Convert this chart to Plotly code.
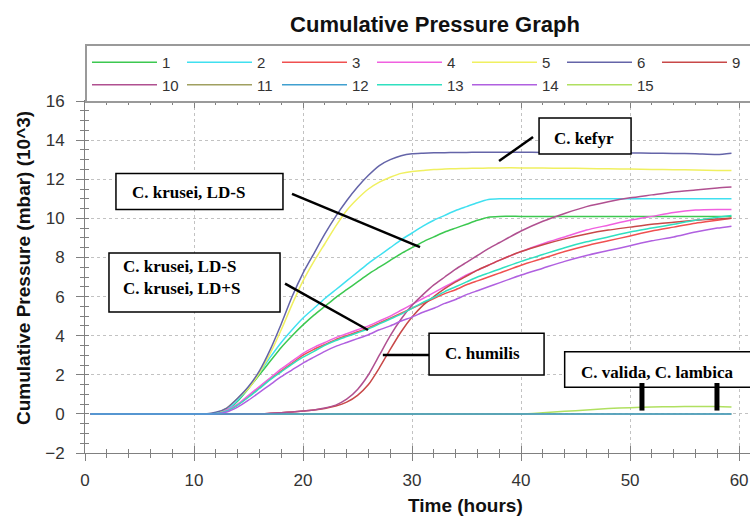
import plotly.graph_objects as go

# ---------------- data ----------------
hours = [0.5, 4, 8, 10, 11, 12, 13, 14, 15, 16, 17, 18, 19, 20, 21, 22, 23, 24, 25, 26,
         27, 28, 29, 30, 31, 32, 33, 34, 35, 36, 37, 38, 40, 42, 44, 46, 48, 50, 52, 54,
         56, 58, 59.3]

s1 = [0, 0, 0, 0, 0,
      0.02, 0.2, 0.65, 1.3, 2.0, 2.7, 3.4, 4.0, 4.55, 5.05, 5.5, 5.95, 6.35, 6.75, 7.15,
      7.5, 7.85, 8.2, 8.5, 8.8, 9.05, 9.3, 9.5, 9.7, 9.9, 10.06, 10.1,
      10.1, 10.1, 10.1, 10.1, 10.1, 10.1, 10.1, 10.1, 10.1, 10.1, 10.1]
s2 = [0, 0, 0, 0, 0,
      0.02, 0.2, 0.7, 1.35, 2.1, 2.9, 3.65, 4.3, 4.9, 5.4, 5.9, 6.35, 6.8, 7.25, 7.7,
      8.1, 8.5, 8.9, 9.25, 9.6, 9.9, 10.15, 10.4, 10.6, 10.8, 10.96, 11.0,
      11.0, 11.0, 11.0, 11.0, 11.0, 11.0, 11.0, 11.0, 11.0, 11.0, 11.0]
s3 = [0, 0, 0, 0, 0,
      0.02, 0.15, 0.45, 0.9, 1.35, 1.8, 2.2, 2.6, 3.0, 3.3, 3.55, 3.8, 4.0, 4.2, 4.4,
      4.65, 4.9, 5.15, 5.4, 5.65, 5.9, 6.15, 6.35, 6.6, 6.8, 7.0, 7.2,
      7.6, 7.95, 8.3, 8.6, 8.85, 9.1, 9.35, 9.55, 9.75, 9.9, 10.0]
s4 = [0, 0, 0, 0, 0,
      0.02, 0.2, 0.5, 0.95, 1.4, 1.85, 2.3, 2.7, 3.1, 3.4, 3.65, 3.9, 4.1, 4.3, 4.5,
      4.75, 5.0, 5.3, 5.6, 5.9, 6.2, 6.5, 6.8, 7.1, 7.35, 7.6, 7.85,
      8.3, 8.7, 9.05, 9.4, 9.65, 9.9, 10.1, 10.3, 10.42, 10.45, 10.45]
s5 = [0, 0, 0, 0, 0,
      0.05, 0.3, 0.8, 1.3, 2.1, 3.1, 4.3, 5.6, 6.8, 7.8, 8.7, 9.6, 10.4, 11.0, 11.5,
      11.85, 12.1, 12.3, 12.4, 12.45, 12.5, 12.52, 12.54, 12.55, 12.56, 12.57, 12.58,
      12.58, 12.57, 12.56, 12.55, 12.53, 12.52, 12.5, 12.49, 12.47, 12.45, 12.44]
s6 = [0, 0, 0, 0, 0,
      0.08, 0.3, 0.8, 1.4, 2.2, 3.3, 4.6, 6.0, 7.2, 8.2, 9.2, 10.1, 10.9, 11.6, 12.2,
      12.7, 13.0, 13.2, 13.3, 13.33, 13.35, 13.36, 13.37, 13.37, 13.38, 13.38, 13.38,
      13.38, 13.37, 13.37, 13.36, 13.35, 13.34, 13.33, 13.32, 13.3, 13.26, 13.33]
s9 = [0, 0, 0, 0, 0, 0, 0, 0, 0, 0,
      0.03, 0.06, 0.1, 0.15, 0.2, 0.28, 0.4, 0.6, 0.95, 1.5, 2.35, 3.3, 4.2, 4.95,
      5.55, 6.0, 6.4, 6.75, 7.05, 7.35, 7.6, 7.85,
      8.3, 8.65, 8.95, 9.2, 9.4, 9.55, 9.7, 9.8, 9.9, 9.97, 10.0]
s10 = [0, 0, 0, 0, 0, 0, 0, 0, 0, 0,
       0.03, 0.06, 0.1, 0.15, 0.2, 0.3, 0.45, 0.75, 1.25, 2.0, 3.0, 4.0, 4.85, 5.55,
       6.1, 6.6, 7.0, 7.4, 7.75, 8.1, 8.45, 8.75,
       9.35, 9.85, 10.25, 10.6, 10.85, 11.05, 11.2, 11.35, 11.45, 11.55, 11.6]
s11 = [0] * 43
s12 = [0] * 43
s13 = [0, 0, 0, 0, 0,
       0.02, 0.15, 0.45, 0.85, 1.3, 1.75, 2.15, 2.55, 2.9, 3.2, 3.5, 3.75, 3.95, 4.15, 4.35,
       4.6, 4.85, 5.1, 5.4, 5.7, 5.95, 6.25, 6.5, 6.75, 7.0, 7.2, 7.4,
       7.8, 8.15, 8.5, 8.8, 9.05, 9.3, 9.5, 9.7, 9.9, 10.05, 10.15]
s14 = [0, 0, 0, 0, 0,
       0.01, 0.1, 0.35, 0.7, 1.1, 1.5, 1.9, 2.25, 2.6, 2.9, 3.2, 3.45, 3.65, 3.85, 4.05,
       4.3, 4.5, 4.75, 4.95, 5.2, 5.4, 5.65, 5.85, 6.1, 6.3, 6.5, 6.7,
       7.1, 7.45, 7.8, 8.1, 8.35, 8.6, 8.85, 9.05, 9.3, 9.5, 9.6]
s15 = [0] * 33 + [0.06, 0.13, 0.2, 0.27, 0.32, 0.35, 0.37, 0.38, 0.38, 0.35]

series_names = ["1", "2", "3", "4", "5", "6", "9", "10", "11", "12", "13", "14", "15"]
series_values = [s1, s2, s3, s4, s5, s6, s9, s10, s11, s12, s13, s14, s15]
series_colors = ["#3cc850", "#40e0f0", "#f05050", "#f060e0", "#f0f060", "#6464a8",
                 "#c84848", "#b05090", "#a0a060", "#40a0d0", "#30e0c0", "#b060e0", "#b0e060"]
draw_order = ["15", "11", "1", "2", "3", "4", "5", "6", "9", "10", "13", "14", "12"]

x_ticks = [0, 10, 20, 30, 40, 50, 60]
y_ticks = [-2, 0, 2, 4, 6, 8, 10, 12, 14, 16]

for v in series_values:
    assert len(v) == len(hours)

# ---------------- figure ----------------
fig = go.Figure()
for name in draw_order:
    i = series_names.index(name)
    fig.add_trace(go.Scatter(
        x=hours, y=series_values[i], name=name, mode="lines",
        line=dict(color=series_colors[i], width=1.5, shape="spline", smoothing=0.6),
        legendrank=100 + i,
    ))
# empty trace so that the overlay axes (inner half of the crossing ticks) are drawn
fig.add_trace(go.Scatter(x=[], y=[], xaxis="x2", yaxis="y2", showlegend=False, hoverinfo="skip"))

tick_font = dict(family="Liberation Sans", size=17, color="#333333")
axis_col = "#808080"
PLOT_TOP, PLOT_BOTTOM = 101, 453
PLOT_H = PLOT_BOTTOM - PLOT_TOP

fig.update_layout(
    width=750, height=520,
    margin=dict(l=85, r=0, t=PLOT_TOP, b=520 - PLOT_BOTTOM, autoexpand=False),
    paper_bgcolor="white", plot_bgcolor="white",
    title=dict(text="Cumulative Pressure Graph", x=435 / 750, xanchor="center",
               y=1 - 24 / 520, yanchor="middle",
               font=dict(family="Liberation Sans", size=22, color="#111111", weight="bold")),
    xaxis=dict(range=[0, 61], tickvals=x_ticks, ticks="outside", ticklen=7, tickcolor=axis_col,
               showline=True, linecolor=axis_col, linewidth=1, mirror=True,
               showgrid=True, gridcolor="#c2c2c2", griddash="dot", gridwidth=1,
               zeroline=False, tickfont=tick_font, ticklabelstandoff=5,
               minor=dict(dtick=2, ticks="outside", ticklen=4, tickcolor=axis_col, showgrid=False)),
    xaxis2=dict(range=[0, 61], overlaying="x", anchor="y", side="bottom",
                tickvals=x_ticks, ticks="inside", ticklen=7, tickcolor=axis_col, mirror="allticks",
                showline=False, showticklabels=False, showgrid=False, zeroline=False,
                minor=dict(dtick=2, ticks="inside", ticklen=4, tickcolor=axis_col, showgrid=False)),
    yaxis=dict(range=[-2, 16], tickvals=y_ticks, ticks="outside", ticklen=8, tickcolor=axis_col,
               showline=True, linecolor=axis_col, linewidth=1, mirror=True,
               showgrid=True, gridcolor="#c2c2c2", griddash="dot", gridwidth=1,
               zeroline=False, tickfont=tick_font, ticklabelstandoff=8,
               minor=dict(dtick=0.5, ticks="outside", ticklen=4, tickcolor=axis_col, showgrid=False)),
    yaxis2=dict(range=[-2, 16], overlaying="y", anchor="x", side="left",
                tickvals=y_ticks, ticks="inside", ticklen=3, tickcolor=axis_col,
                showline=False, showticklabels=False, showgrid=False, zeroline=False,
                minor=dict(dtick=0.5, ticks="inside", ticklen=4, tickcolor=axis_col, showgrid=False)),
    legend=dict(orientation="h", xref="paper", x=0, xanchor="left",
                yref="paper", y=(PLOT_BOTTOM - 44) / PLOT_H, yanchor="top",
                bordercolor="#9a9a9a", borderwidth=2, bgcolor="white",
                font=dict(family="Liberation Sans", size=15, color="#333333"),
                itemwidth=65, entrywidth=15, entrywidthmode="pixels", traceorder="normal"),
    showlegend=True,
)

# axis titles (placed as in the reference)
fig.add_annotation(text="Time (hours)", xref="paper", yref="paper",
                   x=(466 - 85) / 665, y=(PLOT_BOTTOM - 505) / PLOT_H,
                   xanchor="center", yanchor="middle", showarrow=False,
                   font=dict(family="Liberation Sans", size=19, color="#111111", weight="bold"))
fig.add_annotation(text="Cumulative Pressure (mbar) (10^3)", xref="paper", yref="paper",
                   x=(23 - 85) / 665, y=(PLOT_BOTTOM - 268) / PLOT_H,
                   xanchor="center", yanchor="middle", textangle=-90, showarrow=False,
                   font=dict(family="Liberation Sans", size=19, color="#111111", weight="bold"))

# ---------------- call-outs ----------------
callout_font = dict(family="Liberation Serif", size=17, color="black", weight="bold")

boxes = [  # x0, x1, y0, y1 in data units
    (41.65, 50.09, 13.29, 15.13),
    (2.84, 18.16, 10.45, 12.29),
    (2.2, 17.89, 5.21, 8.23),
    (31.56, 42.11, 1.99, 4.12),
    (44.0, 61.5, 1.36, 3.18),
]
for x0, x1, y0, y1 in boxes:
    fig.add_shape(type="rect", xref="x", yref="y", x0=x0, x1=x1, y0=y0, y1=y1,
                  line=dict(color="black", width=1.5), fillcolor="white", layer="above")

pointers = [  # x0, y0, x1, y1, width
    (37.98, 12.93, 41.1, 14.16, 2.5),
    (18.99, 11.25, 30.73, 8.53, 2.5),
    (18.35, 6.66, 25.96, 4.29, 2.5),
    (27.32, 3.01, 31.56, 3.01, 2.5),
    (51.09, 1.58, 51.09, 0.17, 5),
    (57.97, 1.58, 57.97, 0.17, 5),
]
for x0, y0, x1, y1, w in pointers:
    fig.add_shape(type="line", xref="x", yref="y", x0=x0, y0=y0, x1=x1, y1=y1,
                  line=dict(color="black", width=w), layer="above")

labels = [  # text, x, y, xanchor
    ("C. kefyr", 45.77, 14.06, "center"),
    ("C. krusei, LD-S", 4.13, 11.3, "left"),
    ("C. krusei, LD-S<br>C. krusei, LD+S", 3.26, 6.95, "left"),
    ("C. humilis", 36.42, 3.11, "center"),
    ("C. valida, C. lambica", 52.56, 2.14, "center"),
]
for text, x, y, xa in labels:
    fig.add_annotation(text=text, x=x, y=y, xref="x", yref="y", xanchor=xa, yanchor="middle",
                       align="left", showarrow=False, font=callout_font)

fig.write_html("out.html", config={"displayModeBar": False},
               post_script="document.body.style.margin='0';")
